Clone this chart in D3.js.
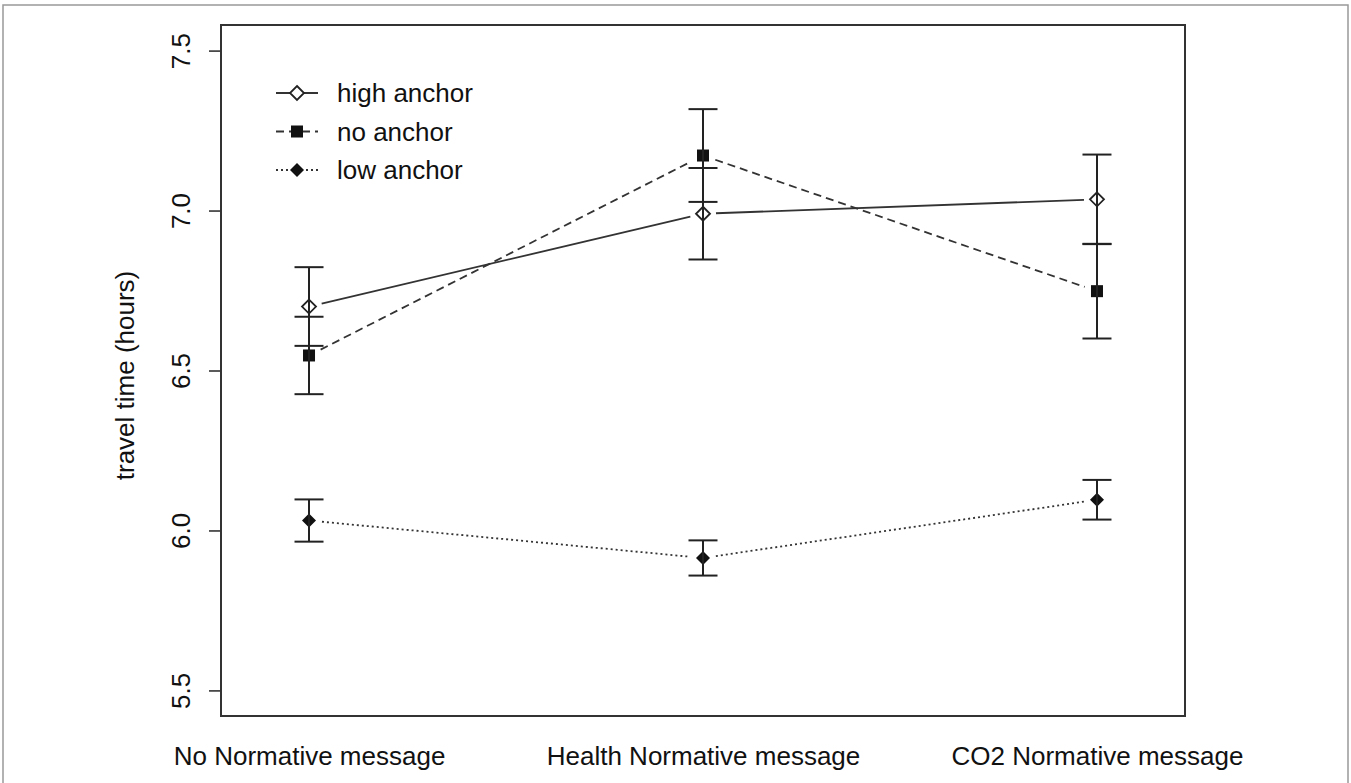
<!DOCTYPE html>
<html>
<head>
<meta charset="utf-8">
<script src="https://cdn.jsdelivr.net/npm/d3@7"></script>
<style>
  html, body { margin: 0; padding: 0; background: #fff; }
  svg { display: block; }
  text { font-family: "Liberation Sans", Arial, sans-serif; fill: #111; }
</style>
</head>
<body>
<svg id="chart" width="1351" height="783"></svg>
<script>
// ---- data ----
const categories = ["No Normative message", "Health Normative message", "CO2 Normative message"];
const seriesNames = ["high anchor", "no anchor", "low anchor"];
const highAnchor = [6.70, 6.99, 7.035];
const highAnchorErr = [0.123, 0.143, 0.14];
const noAnchor = [6.547, 7.172, 6.748];
const noAnchorErr = [0.121, 0.145, 0.148];
const lowAnchor = [6.031, 5.914, 6.096];
const lowAnchorErr = [0.066, 0.055, 0.062];
const yTicks = [5.5, 6.0, 6.5, 7.0, 7.5];
const yTitle = "travel time (hours)";

const series = [
  { name: seriesNames[0], values: highAnchor, err: highAnchorErr, dash: null, sym: "openDiamond" },
  { name: seriesNames[1], values: noAnchor, err: noAnchorErr, dash: "8,5", sym: "square" },
  { name: seriesNames[2], values: lowAnchor, err: lowAnchorErr, dash: "2,3", sym: "diamond" }
];

// ---- layout ----
const box = { left: 221, right: 1185, top: 25, bottom: 716 };
const FS = "26px";
const svg = d3.select("#chart");

// outer frame
svg.append("rect").attr("x", 3).attr("y", 5).attr("width", 1345).attr("height", 800)
  .attr("fill", "none").attr("stroke", "#999").attr("stroke-width", 1.5);

const x = d3.scalePoint().domain(categories).range([box.left, box.right]).padding(0.2234);
const y = d3.scaleLinear().domain([5.42, 7.58]).range([box.bottom, box.top]);

// plot box
svg.append("rect").attr("x", box.left).attr("y", box.top)
  .attr("width", box.right - box.left).attr("height", box.bottom - box.top)
  .attr("fill", "none").attr("stroke", "#333").attr("stroke-width", 2);

// y axis
const yAxis = svg.append("g").attr("transform", `translate(${box.left},0)`)
  .call(d3.axisLeft(y).tickValues(yTicks).tickFormat(d3.format(".1f")).tickSize(12).tickSizeOuter(0));
yAxis.select(".domain").remove();
yAxis.selectAll(".tick line").attr("stroke", "#333").attr("stroke-width", 1.6);
yAxis.selectAll(".tick text")
  .attr("transform", "rotate(-90)")
  .attr("x", 0).attr("y", -31).attr("dy", 0)
  .attr("text-anchor", "middle")
  .style("font-size", FS).style("font-family", '"Liberation Sans", Arial, sans-serif').attr("fill", "#111");

// x axis labels
const xAxis = svg.append("g").attr("transform", `translate(0,${box.bottom})`)
  .call(d3.axisBottom(x).tickSize(0));
xAxis.select(".domain").remove();
xAxis.selectAll(".tick line").remove();
xAxis.selectAll(".tick text")
  .attr("y", 49).attr("dy", 0)
  .style("font-size", FS).style("font-family", '"Liberation Sans", Arial, sans-serif').attr("fill", "#111");

// y title
svg.append("text")
  .attr("transform", `translate(134,${(box.top + box.bottom) / 2 + 5}) rotate(-90)`)
  .attr("text-anchor", "middle")
  .style("font-size", FS)
  .text(yTitle);

// symbol drawer
function drawSymbol(g, type, cx, cy) {
  if (type === "square") {
    g.append("rect").attr("x", cx - 6).attr("y", cy - 6).attr("width", 12).attr("height", 12)
      .attr("fill", "#111");
  } else {
    const r = 7;
    const p = `M${cx},${cy - r}L${cx + r},${cy}L${cx},${cy + r}L${cx - r},${cy}Z`;
    if (type === "openDiamond") {
      g.append("path").attr("d", p).attr("fill", "#fff").attr("stroke", "#222").attr("stroke-width", 1.8);
    } else {
      g.append("path").attr("d", p).attr("fill", "#111");
    }
  }
}

// lines (with gaps around points, as R type="b")
const gap = 13;
const plot = svg.append("g");
series.forEach(s => {
  const pts = s.values.map((v, i) => [x(categories[i]), y(v)]);
  for (let i = 0; i < pts.length - 1; i++) {
    const [x1, y1] = pts[i], [x2, y2] = pts[i + 1];
    const dx = x2 - x1, dy = y2 - y1, len = Math.hypot(dx, dy);
    const ux = dx / len, uy = dy / len;
    plot.append("line")
      .attr("x1", x1 + ux * gap).attr("y1", y1 + uy * gap)
      .attr("x2", x2 - ux * gap).attr("y2", y2 - uy * gap)
      .attr("stroke", "#333").attr("stroke-width", 1.8)
      .attr("stroke-dasharray", s.dash);
  }
});

// points
series.forEach(s => {
  s.values.forEach((v, i) => drawSymbol(plot, s.sym, x(categories[i]), y(v)));
});

// error bars
const capHalf = 14.5;
series.forEach(s => {
  s.values.forEach((v, i) => {
    const cx = x(categories[i]);
    const yt = y(v + s.err[i]), yb = y(v - s.err[i]);
    plot.append("line").attr("x1", cx).attr("x2", cx).attr("y1", yt).attr("y2", yb)
      .attr("stroke", "#222").attr("stroke-width", 2);
    [yt, yb].forEach(yy => plot.append("line")
      .attr("x1", cx - capHalf).attr("x2", cx + capHalf).attr("y1", yy).attr("y2", yy)
      .attr("stroke", "#222").attr("stroke-width", 2));
  });
});

// legend
const legend = svg.append("g");
series.forEach((s, i) => {
  const ly = 93 + i * 38.5;
  legend.append("line").attr("x1", 276).attr("x2", 318).attr("y1", ly).attr("y2", ly)
    .attr("stroke", "#333").attr("stroke-width", 1.8).attr("stroke-dasharray", s.dash);
  drawSymbol(legend, s.sym, 297, ly);
  legend.append("text").attr("x", 337).attr("y", ly).attr("dy", "0.35em")
    .style("font-size", FS).text(s.name);
});
</script>
</body>
</html>
